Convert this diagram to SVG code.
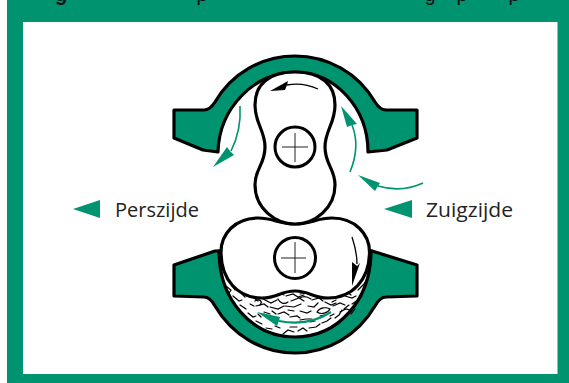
<svg xmlns="http://www.w3.org/2000/svg" width="569" height="383" viewBox="0 0 569 383">
<style>
.ink{stroke:#000;stroke-width:3.2;stroke-linejoin:round}
.casing{fill:#00936f}
.rotor{fill:#fff}
.hub{fill:#fff;stroke:#000;stroke-width:3}
.cross{stroke:#222;stroke-width:1;fill:none}
.g{fill:#00936f}
.gl{fill:none;stroke:#00936f;stroke-width:1.600}
.lab{font-family:"Open Sans","Noto Sans","Liberation Sans",sans-serif;font-size:20px;fill:#222}
.cut{font-family:"Liberation Sans",sans-serif;font-size:20px;fill:#111;text-anchor:middle}
.sq{fill:none;stroke:#000;stroke-width:1.200;stroke-linecap:round}
</style>
<rect x="7" y="0" width="562" height="383" fill="#00936f"/>
<rect x="23" y="22" width="534.500" height="352" fill="#fff"/>
<g id="caption-cut">
<text class="cut" x="61" y="0.500" font-weight="700">g</text>
<text class="cut" x="202" y="0.500">p</text>
<text class="cut" x="430" y="0.500">g</text>
<text class="cut" x="462" y="0.500">p</text>
<text class="cut" x="514" y="0.500">p</text>
</g>
<g id="top-casing">
<path class="casing ink" d="M174,110 L204,110 Q210,110 215,102 C232,73 262,56 295,56 C328,56 358,73 375,102 Q380,110 386,110 L417,110 L417,138 L387,150 L368,152 C368,108 335,72 295,72 C255,72 219,108 218,152 L203,150 L174,138 Z"/>
</g>
<g id="bottom-casing">
<path class="casing ink" d="M174,265 L215,251 L372,251 L417,265 L417,296 L386,297 Q380,297 375,306 C358,335 328,353 295,353 C262,353 232,335 215,306 Q210,297 204,297 L174,296 Z"/>
<path fill="#fff" stroke="#000" stroke-width="3.200" d="M219,251 C219,300 252,337 295,337 C338,337 371,300 371,251 Z"/>
<g class="sq">
<path d="M226,286l5,4l-2,3M233,296l6,5l3,-1M240,305l6,4M248,313l5,4l3,-1M256,321l6,3M266,328l6,1M229,279l4,5"/>
<path d="M239,285l6,3l5,-1l3,3M247,296l7,2l4,3M256,306l8,-2l4,3M263,299l8,4l6,-3M272,296l7,-3l5,2M270,307l8,2l6,-3"/>
<path d="M286,296l7,-2l5,3l6,-2M291,301l8,-3l5,3M285,306l9,1l7,-3M300,294l8,-1l5,2M312,300l7,-2l4,3M308,306l6,1l4,-4M317,312c3,-5 9,-5 13,-3c-2,4 -9,6 -13,3Z"/>
<path d="M325,302l6,3l5,-2M333,306l7,-3l5,2M340,312l6,-3l4,1M345,296l7,2l4,-2M352,304l6,-4l3,-3M358,290l5,-5l3,-4"/>
<path d="M278,314l6,-2l5,3M290,317l7,-1l3,2M300,311l7,2l4,-2M283,334l5,-4l6,2M298,331l5,-3l4,3M309,328l7,-1l4,-3M322,323l5,-2l4,-3M335,318l4,-3l3,-5M344,309l5,-4M351,314l4,-5M268,317l-4,-3M300,320l6,-1h6"/>
<path d="M255,301c5,-3 8,1 5,4M278,299c2,4 6,6 10,3M300,298c4,-3 8,-1 11,1M321,296c3,2 5,2 8,0M264,312l6,2M275,326l5,2M290,327h7M310,322l5,-1"/>
<path d="M347,292l4,3M336,300l-4,2M362,296l-3,4M242,294l3,3M232,286l3,4M288,310l6,1M272,311l4,3M320,316l4,-1M330,316l4,-2M250,304l4,2M258,314l3,3"/>
</g>
</g>
<g id="bottom-rotor">
<path class="rotor ink" d="M295,224 C312,224 316,218 332,218 C355,218 369.500,234 369.500,252 C369.500,280 352,298 328,298 C312,298 310,291 295,291 C280,291 278,298 262,298 C238,298 221,280 221,252 C221,234 235,218 258,218 C274,218 278,224 295,224 Z"/>
<circle class="hub" cx="295" cy="258" r="20.500"/>
<path class="cross" d="M281,258H306M295,242V273"/>
</g>
<g id="top-rotor">
<path class="rotor ink" d="M295,72 C322,72 335,85 335,105 C335,124 325,130 325,147 C325,165 335,168 335,185 C335,208 315,224 295,224 C275,224 255,208 255,185 C255,168 265,165 265,147 C265,130 255,124 255,105 C255,85 268,72 295,72 Z"/>
<circle class="hub" cx="295" cy="147" r="20"/>
<path class="cross" d="M282,147H308M295,133V162"/>
</g>
<g id="connectors">
<path d="M318,89 C307,84 297,83 287,85" fill="none" stroke="#000" stroke-width="1.300"/>
<path d="M270,91 L288,81 L287,85 L285,90 Z" fill="#000"/>
<path d="M352,237 C355,246 357,254 357,264" fill="none" stroke="#000" stroke-width="1.300"/>
<path d="M352,286 L352,262 L357,266 L360,263 Z" fill="#000"/>
<path class="gl" d="M240,106 C241,122 238,137 231,151"/>
<path class="g" d="M213,167 L227,147 L230,151 L234,155 Z"/>
<path class="gl" d="M350,172 C357,155 358,140 352,125"/>
<path class="g" d="M341,106 L357,124 L352,125 L347,127 Z"/>
<path class="gl" d="M423,183 C410,189 395,191 378,186"/>
<path class="g" d="M358,175 L380,183 L378,186 L375,191 Z"/>
<path fill="none" stroke="#00936f" stroke-width="2.200" d="M331,312 C317,321 299,325 279,321"/>
<path class="g" d="M257,312 L280,317 L279,321 L277,326 Z"/>
<path class="g" d="M73,209 L100,200 V218 Z"/>
<path class="g" d="M384,209 L412,200 V218 Z"/>
</g>
<g id="labels">
<text class="lab" x="115" y="217">Perszijde</text>
<text class="lab" x="426" y="217" textLength="87" lengthAdjust="spacingAndGlyphs">Zuigzijde</text>
</g>
</svg>
